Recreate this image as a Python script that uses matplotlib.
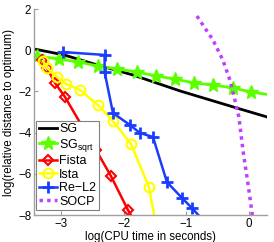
import matplotlib
matplotlib.use("Agg")
import matplotlib.pyplot as plt

plt.rcParams['font.family'] = ['Liberation Sans', 'DejaVu Sans']

# ---- data (log10 CPU time, log relative distance) ----
sg_x = [-3.44, -2.96, -2.5, -1.86, -1.10, -0.19, 0.29]
sg_y = [0.06, -0.23, -0.65, -1.20, -1.98, -2.81, -3.24]

sgs_x = [-3.39, -3.04, -2.736, -2.416, -2.112, -1.792, -1.488, -1.184, -0.88, -0.576, -0.256, 0.032, 0.35]
sgs_y = [-0.28, -0.43, -0.57, -0.77, -0.91, -1.06, -1.25, -1.40, -1.59, -1.69, -1.83, -2.03, -2.17]

fista_x = [-3.312, -3.232, -3.104, -2.944, -2.448, -2.208, -1.936, -1.75]
fista_y = [-0.48, -0.86, -1.59, -2.27, -4.84, -6.11, -7.76, -8.7]

ista_x = [-3.296, -3.232, -3.072, -2.928, -2.704, -2.416, -2.176, -1.888, -1.6, -1.48]
ista_y = [-0.52, -0.86, -1.30, -1.64, -1.93, -2.66, -3.44, -4.55, -6.64, -8.6]

rel2_x = [-2.976, -2.31, -2.31, -2.176, -1.904, -1.744, -1.536, -1.312, -1.072, -0.912, -0.75]
rel2_y = [-0.09, -0.23, -1.06, -3.05, -3.63, -4.02, -4.21, -6.40, -7.17, -7.66, -8.2]

socp_x = [-0.832, -0.576, -0.416, -0.304, -0.224, -0.16, -0.096, -0.016, 0.048, 0.06]
socp_y = [1.66, 0.50, -0.48, -1.45, -2.42, -3.24, -4.84, -6.45, -7.85, -8.2]

labels = ['SG', r'$\mathregular{SG_{sqrt}}$', 'Fista', 'Ista', 'Re\u2212L2', 'SOCP']
xticks = [-3, -2, -1, 0]
yticks = [-8, -6, -4, -2, 0, 2]

fig = plt.figure(figsize=(2.74, 2.42), dpi=100)
ax = fig.add_axes([34/274, 1-215/242, (267-34)/274, (215-9)/242])

ax.plot(sg_x, sg_y, color='black', lw=2, label=labels[0])
ax.plot(sgs_x, sgs_y, color='#5cff00', lw=2, marker='*', ms=10, mec='#5cff00',
        markevery=list(range(12)), label=labels[1])
ax.plot(fista_x, fista_y, color='#ff0000', lw=1.8, marker='D', ms=5.5, mfc='none', mew=1.5,
        label=labels[2])
ax.plot(ista_x, ista_y, color='#ffff00', lw=1.8, marker='o', ms=7, mfc='none', mew=1.5,
        markevery=list(range(9)), label=labels[3])
ax.plot(rel2_x, rel2_y, color='#1a3cff', lw=1.8, marker='+', ms=8, mew=2,
        markevery=list(range(10)), label=labels[4])
ax.plot(socp_x, socp_y, color='#c040ff', lw=2.5, linestyle=(0, (1, 1.2)), label=labels[5])

ax.set_xlim(-3.44, 0.29)
ax.set_ylim(-8, 2)
ax.set_xticks(xticks)
ax.set_yticks(yticks)
ax.set_xticklabels(['\u22123', '\u22122', '\u22121', '0'])
ax.set_yticklabels(['\u22128', '\u22126', '\u22124', '\u22122', '0', '2'])
ax.tick_params(direction='in', length=3, color='#999999', labelsize=8.3, pad=2)
for s in ['top', 'right']:
    ax.spines[s].set_visible(False)
for s in ['left', 'bottom']:
    ax.spines[s].set_color('#a0a0a0')
    ax.spines[s].set_linewidth(1)

ax.set_xlabel('log(CPU time in seconds)', fontsize=8.3, labelpad=1)
ax.set_ylabel('log(relative distance to optimum)', fontsize=8.3, labelpad=2)

leg = ax.legend(loc='lower left', bbox_to_anchor=(0.009, 0.024), borderaxespad=0,
                fontsize=9, fancybox=False, framealpha=1, edgecolor='#808080',
                handlelength=1.5, handletextpad=0.15, labelspacing=0.12,
                borderpad=0.2, markerscale=1.0)
leg.get_frame().set_linewidth(0.8)

fig.savefig('out.png', dpi=100)
